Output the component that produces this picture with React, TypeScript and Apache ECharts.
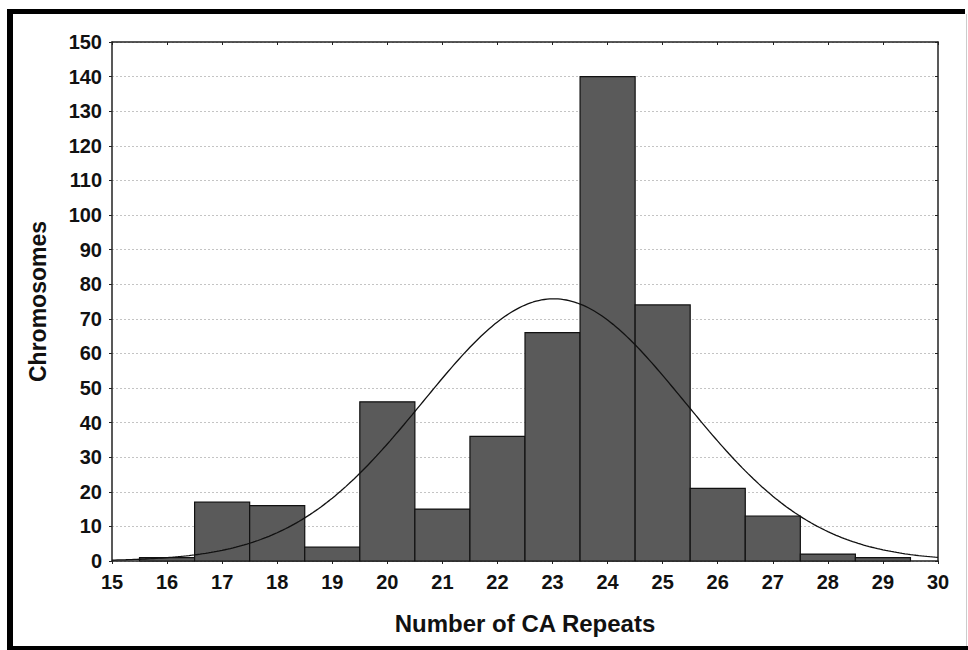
import React, { useEffect, useRef } from "react";
import * as echarts from "echarts";

const repeats = [16, 17, 18, 19, 20, 21, 22, 23, 24, 25, 26, 27, 28, 29];
const chromosomes = [1, 17, 16, 4, 46, 15, 36, 66, 140, 74, 21, 13, 2, 1];
const xTicks = [15, 16, 17, 18, 19, 20, 21, 22, 23, 24, 25, 26, 27, 28, 29, 30];
const yTicks = [0, 10, 20, 30, 40, 50, 60, 70, 80, 90, 100, 110, 120, 130, 140, 150];

// Fitted normal curve from the histogram data (mean, sd, total)
const total = chromosomes.reduce((a, b) => a + b, 0);
const mean = repeats.reduce((s, x, i) => s + x * chromosomes[i], 0) / total;
const sd = Math.sqrt(
  repeats.reduce((s, x, i) => s + chromosomes[i] * (x - mean) ** 2, 0) / (total - 1)
);
const curve: number[][] = [];
for (let k = 0; k <= 300; k++) {
  const x = 15 + k * 0.05;
  const y = (total / (sd * Math.sqrt(2 * Math.PI))) * Math.exp(-((x - mean) ** 2) / (2 * sd * sd));
  curve.push([x, y]);
}

const FONT = "'Liberation Sans', Arial, sans-serif";

export default function App() {
  const ref = useRef<HTMLDivElement>(null);
  useEffect(() => {
    if (!ref.current) return;
    const chart = echarts.init(ref.current, null, { renderer: "svg" });
    chart.setOption({
      animation: false,
      backgroundColor: "#ffffff",
      grid: { left: 112, right: 30, top: 42, bottom: 89, show: false },
      xAxis: [
        {
          type: "value",
          min: 15,
          max: 30,
          interval: 1,
          position: "bottom",
          axisLine: { show: true, onZero: false, lineStyle: { color: "#222", width: 1.5 } },
          axisTick: { show: true, inside: false, length: 3, lineStyle: { color: "#222" } },
          axisLabel: {
            color: "#111",
            fontFamily: FONT,
            fontWeight: "bold",
            fontSize: 20,
            margin: 11,
            formatter: (v: number) => (xTicks.includes(v) ? String(v) : ""),
          },
          splitLine: { show: false },
          name: "Number of CA Repeats",
          nameLocation: "middle",
          nameGap: 50,
          nameTextStyle: { color: "#111", fontFamily: FONT, fontWeight: "bold", fontSize: 24 },
        },
        {
          type: "value",
          min: 15,
          max: 30,
          interval: 1,
          position: "top",
          axisLine: { show: true, onZero: false, lineStyle: { color: "#222", width: 1.5 } },
          axisTick: { show: true, inside: true, length: 3, lineStyle: { color: "#222" } },
          axisLabel: { show: false },
          splitLine: { show: false },
        },
      ],
      yAxis: [
        {
          type: "value",
          min: 0,
          max: 150,
          interval: 10,
          position: "left",
          axisLine: { show: true, onZero: false, lineStyle: { color: "#222", width: 1.5 } },
          axisTick: { show: true, inside: false, length: 3, lineStyle: { color: "#222" } },
          axisLabel: {
            color: "#111",
            fontFamily: FONT,
            fontWeight: "bold",
            fontSize: 20,
            margin: 10,
            formatter: (v: number) => (yTicks.includes(v) ? String(v) : ""),
          },
          splitLine: { show: true, lineStyle: { color: "#c4c4c4", type: [2, 2], width: 1 } },
          name: "Chromosomes",
          nameLocation: "middle",
          nameGap: 63,
          nameRotate: 90,
          nameTextStyle: { color: "#111", fontFamily: FONT, fontWeight: "bold", fontSize: 23 },
        },
        {
          type: "value",
          min: 0,
          max: 150,
          interval: 10,
          position: "right",
          axisLine: { show: true, onZero: false, lineStyle: { color: "#222", width: 1.5 } },
          axisTick: { show: true, inside: true, length: 3, lineStyle: { color: "#222" } },
          axisLabel: { show: false },
          splitLine: { show: false },
        },
      ],
      series: [
        {
          type: "custom",
          xAxisIndex: 0,
          yAxisIndex: 0,
          data: repeats.map((x, i) => [x, chromosomes[i]]),
          renderItem: (params: any, api: any) => {
            const x = api.value(0);
            const y = api.value(1);
            const p0 = api.coord([x - 0.5, y]);
            const p1 = api.coord([x + 0.5, 0]);
            return {
              type: "rect",
              shape: { x: p0[0], y: p0[1], width: p1[0] - p0[0], height: p1[1] - p0[1] },
              style: { fill: "#5a5a5a", stroke: "#111", lineWidth: 1.2 },
            };
          },
          z: 2,
        },
        {
          type: "line",
          xAxisIndex: 0,
          yAxisIndex: 0,
          data: curve,
          showSymbol: false,
          symbol: "none",
          smooth: false,
          lineStyle: { color: "#111", width: 1.3 },
          z: 3,
        },
      ],
      graphic: [
        { type: "rect", shape: { x: 7, y: 9, width: 6, height: 641 }, style: { fill: "#000" } },
        { type: "rect", shape: { x: 7, y: 9, width: 958, height: 5 }, style: { fill: "#000" } },
        { type: "rect", shape: { x: 7, y: 646, width: 961, height: 4 }, style: { fill: "#000" } },
        { type: "line", shape: { x1: 966.5, y1: 14, x2: 966.5, y2: 646 }, style: { stroke: "#ccc", lineWidth: 1 } },
      ],
    });
    return () => chart.dispose();
  }, []);
  return (
    <div
      ref={ref}
      style={{ position: "fixed", left: 0, top: 0, width: 968, height: 650, background: "#fff" }}
    />
  );
}
